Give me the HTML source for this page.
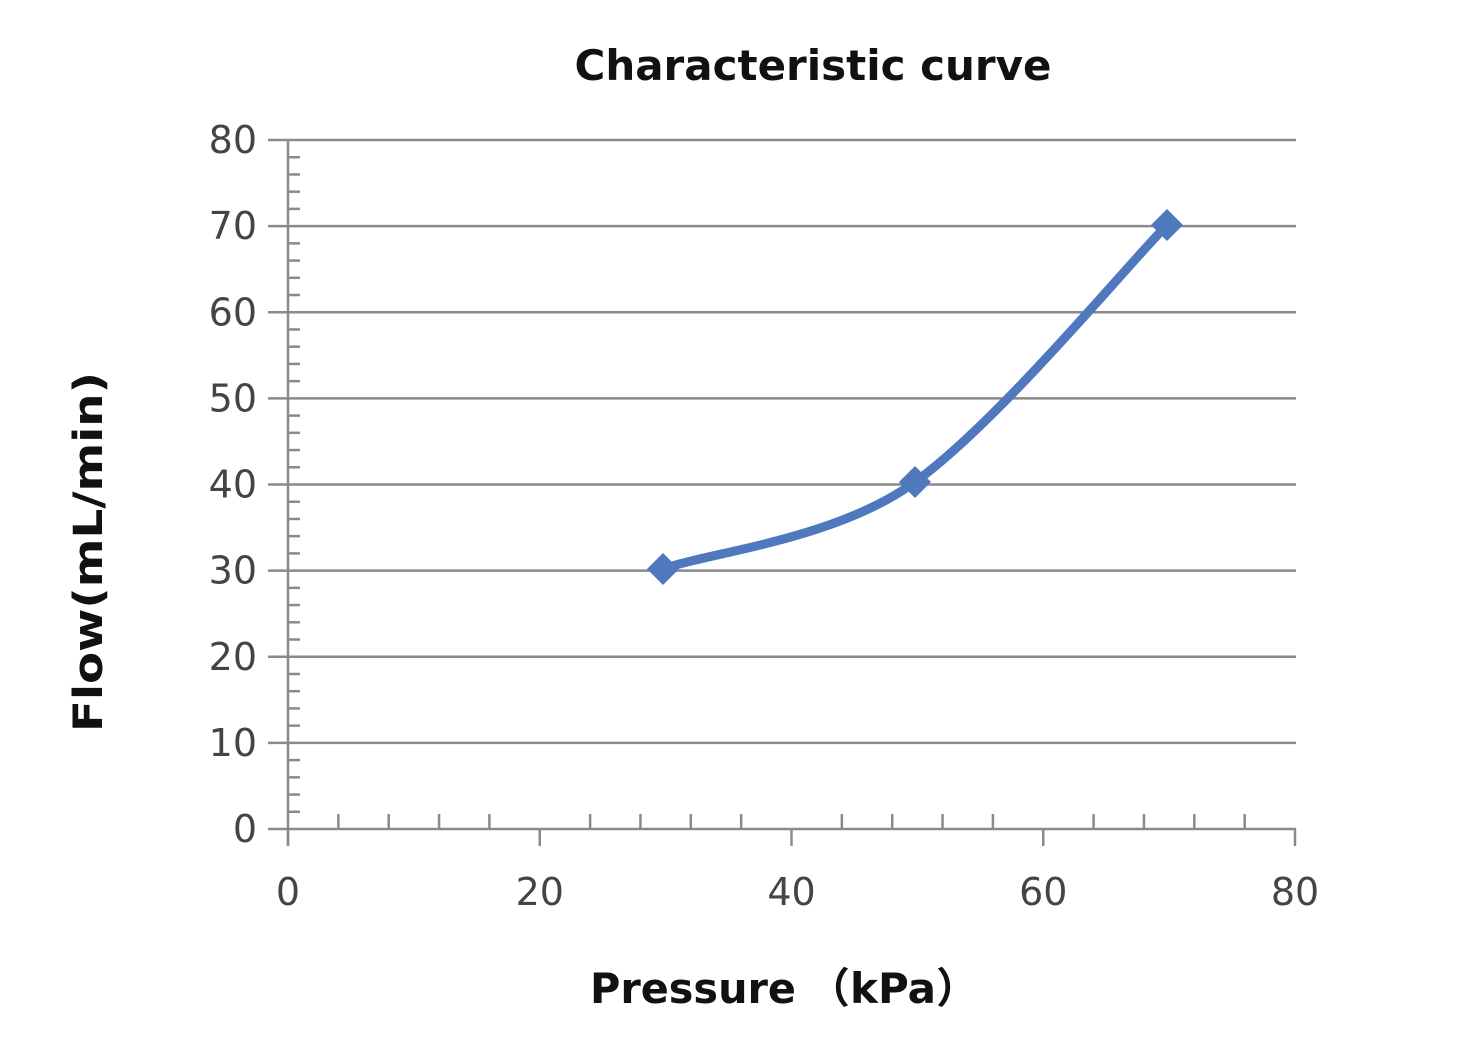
<!DOCTYPE html>
<html><head><meta charset="utf-8"><style>
html,body{margin:0;padding:0;background:#fff;}
svg{display:block;}
</style></head><body>
<svg id="s" width="1476" height="1048" viewBox="0 0 1476 1048" xmlns="http://www.w3.org/2000/svg" font-family="'Liberation Sans','DejaVu Sans','Noto Sans CJK SC',sans-serif">
<rect width="1476" height="1048" fill="#fff"/>
<text x="813" y="80" text-anchor="middle" font-family="'DejaVu Sans',sans-serif" font-weight="bold" font-size="42" fill="#111" textLength="477" lengthAdjust="spacingAndGlyphs">Characteristic curve</text>
<g id="grid" stroke="#8a8a8a" stroke-width="2.5"></g>
<g id="lab" font-family="'DejaVu Sans',sans-serif" font-size="38" fill="#444"></g>
<path d="M663,569 C710,552 835,540 915,482 C999,421 1125,267.8 1167,225" fill="none" stroke="#4f78be" stroke-width="9" stroke-linecap="round"/>
<g fill="#4f78be">
<path d="M663,553 L679,569 L663,585 L647,569Z"/>
<path d="M915,466 L931,482 L915,498 L899,482Z"/>
<path d="M1167,209 L1183,225 L1167,241 L1151,225Z"/>
</g>
<text x="693" y="1003" text-anchor="middle" font-family="'DejaVu Sans','Noto Sans CJK SC',sans-serif" font-weight="bold" font-size="42" fill="#111" textLength="206" lengthAdjust="spacingAndGlyphs">Pressure</text>
<text x="893" y="1003" text-anchor="middle" font-family="'DejaVu Sans','Noto Sans CJK SC',sans-serif" font-weight="bold" font-size="42" fill="#111" textLength="170" lengthAdjust="spacingAndGlyphs">（kPa）</text>
<text transform="translate(102,552) rotate(-90)" text-anchor="middle" font-family="'DejaVu Sans','Noto Sans CJK SC',sans-serif" font-weight="bold" font-size="40" fill="#111" textLength="360" lengthAdjust="spacingAndGlyphs">Flow(mL/min)</text>
</svg>
<script>
var g=document.getElementById('grid'),L=document.getElementById('lab'),ns='http://www.w3.org/2000/svg';
function ln(x1,y1,x2,y2){var e=document.createElementNS(ns,'line');e.setAttribute('x1',x1);e.setAttribute('y1',y1);e.setAttribute('x2',x2);e.setAttribute('y2',y2);g.appendChild(e);}
function tx(x,y,t,a){var e=document.createElementNS(ns,'text');e.setAttribute('x',x);e.setAttribute('y',y);e.setAttribute('text-anchor',a);e.textContent=t;L.appendChild(e);}
var x0=288,x1=1295,y0=829,y1=140;
function X(v){return x0+(x1-x0)*v/80;} function Y(v){return y0-(y0-y1)*v/80;}
for(var v=0;v<=80;v+=10){var y=Y(v);ln(268,y,1296,y);tx(257,y+13,v,'end');}
for(var v=2;v<80;v+=2){if(v%10)ln(x0,Y(v),x0+12,Y(v));}
ln(x0,y1,x0,846);
for(var v=0;v<=80;v+=20){ln(X(v),y0,X(v),846);tx(X(v),905,v,'middle');}
for(var v=4;v<80;v+=4){if(v%20)ln(X(v),y0,X(v),y0-15);}
</script>
</body></html>
